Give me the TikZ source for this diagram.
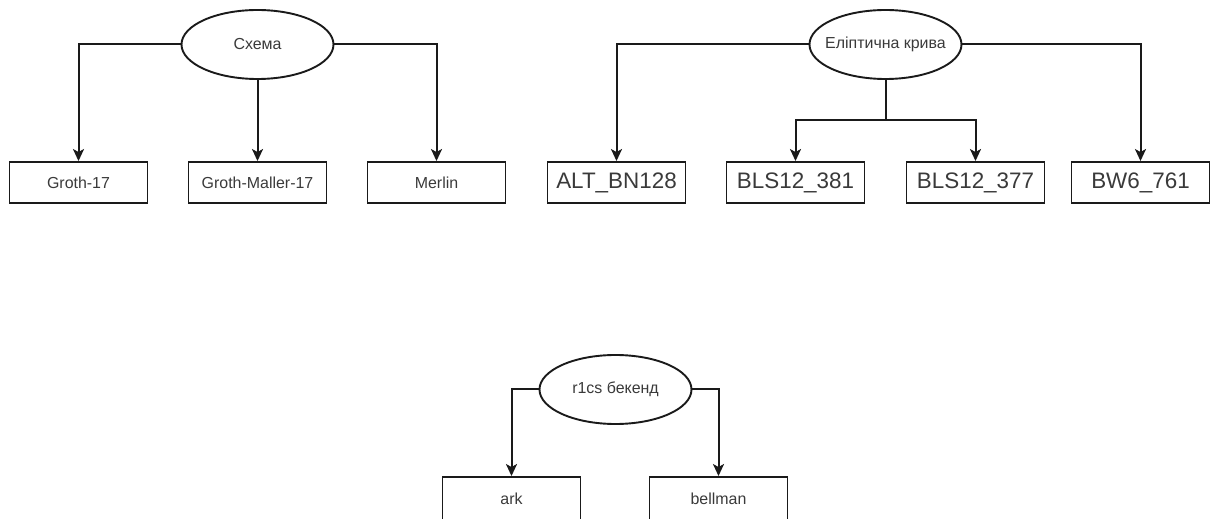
\documentclass[tikz,border=0pt]{standalone}
\usepackage{fontspec}
\setmainfont{Liberation Sans}
\usetikzlibrary{arrows.meta,shapes.geometric}
\definecolor{txt}{HTML}{3A3A3A}
\definecolor{ln}{HTML}{1A1A1A}
\newcommand{\ztext}[1]{\makebox[0pt][c]{#1}}
\tikzset{
  oval/.style={ellipse,draw=ln,line width=1.9bp,minimum width=152bp,minimum height=69bp,inner sep=0pt,text=txt,font=\fontsize{16}{19}\selectfont},
  smallbox/.style={rectangle,draw=ln,line width=1.9bp,minimum width=138bp,minimum height=41bp,inner sep=0pt,text=txt,font=\fontsize{16}{19}\selectfont},
  bigbox/.style={smallbox,font=\fontsize{22.5}{27}\selectfont},
  arr/.style={draw=ln,line width=2bp,-{Stealth[length=12bp,width=11bp,inset=3bp]}},
}
\begin{document}
\begin{tikzpicture}[x=1bp,y=-1bp]
\clip (0,0) rectangle (1216,519);
\fill[white] (0,0) rectangle (1216,519);
% group 1
\node[oval] (s) at (257.5,44.5) {\ztext{Схема}};
\node[smallbox] (g17) at (78.5,182.5) {Groth-17};
\node[smallbox] (gm17) at (257.5,182.5) {Groth-Maller-17};
\node[smallbox] (mer) at (436.5,182.5) {Merlin};
\draw[arr] (s.west) -| (g17.north);
\draw[arr] (s.south) -- (gm17.north);
\draw[arr] (s.east) -| (mer.north);
% group 2
\node[oval] (e) at (885.5,44.5) {\ztext{Еліптична крива}};
\node[bigbox] (alt) at (616.5,182.5) {ALT\_BN128};
\node[bigbox] (b381) at (795.5,182.5) {BLS12\_381};
\node[bigbox] (b377) at (975.5,182.5) {BLS12\_377};
\node[bigbox] (bw6) at (1140.5,182.5) {BW6\_761};
\coordinate (j) at (885.5,120.5);
\draw[arr] (e.west) -| (alt.north);
\draw[arr] (e.east) -| (bw6.north);
\draw[arr] (e.south) -- (j) -| (b381.north);
\draw[arr] (j) -| (b377.north);
% group 3
\node[oval] (r) at (615.5,389.5) {\ztext{r1cs бекенд}};
\node[smallbox,minimum height=44bp] (ark) at (511.5,499) {ark};
\node[smallbox,minimum height=44bp] (bell) at (718.5,499) {bellman};
\draw[arr] (r.west) -| (ark.north);
\draw[arr] (r.east) -| (bell.north);
\end{tikzpicture}
\end{document}
